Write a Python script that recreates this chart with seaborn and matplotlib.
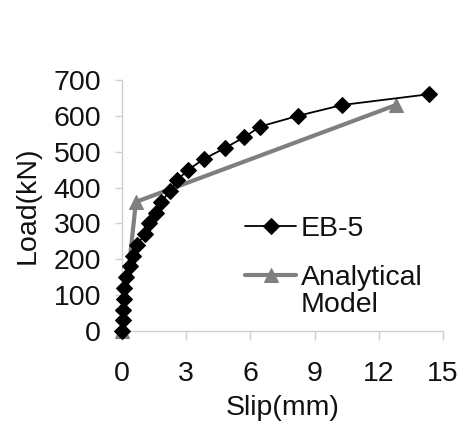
import matplotlib
matplotlib.use("Agg")
import matplotlib.pyplot as plt
import seaborn as sns
import pandas as pd

eb5_slip = [0, 0.03, 0.05, 0.08, 0.1, 0.2, 0.35, 0.5, 0.7, 1.07, 1.27, 1.6, 1.82, 2.24,
            2.56, 3.1, 3.84, 4.8, 5.7, 6.45, 8.23, 10.28, 14.33]
eb5_load = [0, 30, 60, 90, 120, 150, 180, 210, 240, 270, 300, 330, 360, 390,
            420, 450, 480, 510, 540, 570, 600, 630, 660]
model_slip = [0, 0.65, 12.8]
model_load = [0, 360, 630]
x_ticks = [0, 3, 6, 9, 12, 15]
y_ticks = [0, 100, 200, 300, 400, 500, 600, 700]

sns.set_theme(style="white")
plt.rcParams['font.family'] = ['Liberation Sans', 'DejaVu Sans']
FS = 20.5

fig = plt.figure(figsize=(4.64, 4.25), dpi=100)
ax = fig.add_axes([0.263, 0.221, 0.692, 0.591])

df_eb = pd.DataFrame({"slip": eb5_slip, "load": eb5_load})
df_m = pd.DataFrame({"slip": model_slip, "load": model_load})

sns.lineplot(data=df_m, x="slip", y="load", sort=False, ax=ax, color="#7f7f7f",
             linewidth=3, marker="^", markersize=10, markeredgecolor="#7f7f7f",
             label="Analytical", zorder=2)
sns.lineplot(data=df_eb, x="slip", y="load", sort=False, ax=ax, color="black",
             linewidth=1.3, marker="D", markersize=8, markeredgecolor="black",
             label="EB-5", zorder=3)

ax.set_xlim(0, 15)
ax.set_ylim(0, 700)
ax.set_xticks(x_ticks)
ax.set_yticks(y_ticks)
ax.set_xlabel("Slip(mm)", fontsize=FS, labelpad=6, color="#111111")
ax.set_ylabel("Load(kN)", fontsize=FS, labelpad=9, color="#111111")
ax.tick_params(axis="x", direction="out", length=6.5, width=1, color="#d0d0d0",
               pad=15, labelsize=FS, bottom=True, labelcolor="#111111")
ax.tick_params(axis="y", direction="out", length=5, width=1, color="#d0d0d0",
               pad=10, labelsize=FS, left=True, labelcolor="#111111")
for s in ["top", "right"]:
    ax.spines[s].set_visible(False)
for s in ["left", "bottom"]:
    ax.spines[s].set_color("#d0d0d0")
    ax.spines[s].set_linewidth(1)
for ln in ax.lines:
    ln.set_clip_on(False)

handles, labels = ax.get_legend_handles_labels()
order = [labels.index("EB-5"), labels.index("Analytical")]
leg = ax.legend([handles[i] for i in order], [labels[i] for i in order],
                loc="upper left", bbox_to_anchor=(0.383, 0.458), frameon=False,
                fontsize=FS, handlelength=1.8, handletextpad=0.15, labelspacing=0.8,
                borderpad=0, borderaxespad=0)
for t in leg.get_texts():
    t.set_color("#111111")
ax.annotate("Model", xy=(0, 0), xycoords=leg.get_texts()[1], xytext=(0, -0.5),
            textcoords="offset points", ha="left", va="top", fontsize=FS,
            color="#111111", zorder=10)

fig.savefig("out.png", dpi=100)
